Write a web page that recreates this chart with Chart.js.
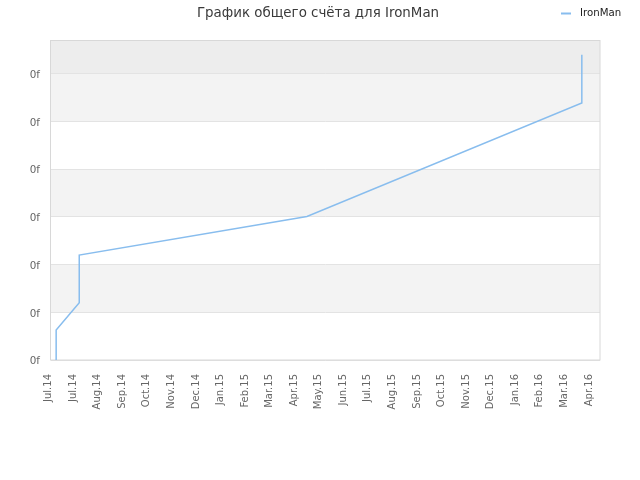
<!DOCTYPE html>
<html>
<head>
<meta charset="utf-8">
<script src="https://cdn.jsdelivr.net/npm/chart.js@4/dist/chart.umd.min.js"></script>
<style>
  html, body { margin: 0; padding: 0; background: #ffffff; }
  #wrap { width: 640px; height: 480px; position: relative; }
</style>
</head>
<body>
<div id="wrap"><canvas id="c"></canvas></div>
<script>
// ---- data ----
const chartTitle = 'График общего счёта для IronMan';
const seriesName = 'IronMan';
const categories = ['Jul.14','Jul.14','Aug.14','Sep.14','Oct.14','Nov.14','Dec.14',
  'Jan.15','Feb.15','Mar.15','Apr.15','May.15','Jun.15','Jul.15','Aug.15','Sep.15',
  'Oct.15','Nov.15','Dec.15','Jan.16','Feb.16','Mar.16','Apr.16'];
const yTickLabels = ['0f','0f','0f','0f','0f','0f','0f'];
const seriesX = [0.31, 0.31, 1.25, 1.25, 10.52, 21.71, 21.71];
const seriesY = [0, 0.63, 1.20, 2.20, 3.01, 5.39, 6.40];

const FONT = "'DejaVu Sans', 'Liberation Sans', sans-serif";
const LINE_COLOR = '#88bdee';

const points = seriesX.map((x, i) => ({ x: x, y: seriesY[i] }));

const decorPlugin = {
  id: 'decor',
  beforeDraw(chart) {
    const { ctx, chartArea: a, scales } = chart;
    const y = scales.y;
    ctx.save();
    ctx.fillStyle = '#ffffff';
    ctx.fillRect(0, 0, chart.width, chart.height);
    const n = yTickLabels.length;
    for (let i = 0; i < n; i++) {
      let color = null;
      if (i === n - 1) color = '#ededed';
      else if (i % 2 === 1) color = '#f3f3f3';
      if (!color) continue;
      const top = y.getPixelForValue(Math.min(i + 1, y.max));
      const bottom = y.getPixelForValue(i);
      ctx.fillStyle = color;
      ctx.fillRect(a.left, top, a.right - a.left, bottom - top);
    }
    ctx.restore();
  },
  beforeDatasetsDraw(chart) {
    const { ctx, chartArea: a } = chart;
    ctx.save();
    ctx.strokeStyle = '#d8d8d8';
    ctx.lineWidth = 1;
    ctx.strokeRect(Math.round(a.left) - 0.5, Math.round(a.top) + 0.5,
      Math.round(a.right - a.left) + 0.5, Math.round(a.bottom - a.top) - 0.5);
    ctx.restore();
  },
  afterDraw(chart) {
    const { ctx } = chart;
    ctx.save();
    // title
    ctx.fillStyle = '#3a3a3a';
    ctx.font = '13.4px ' + FONT;
    ctx.textAlign = 'center';
    ctx.textBaseline = 'middle';
    ctx.fillText(chartTitle, 318, 13.5);
    // legend
    ctx.strokeStyle = LINE_COLOR;
    ctx.lineWidth = 2;
    ctx.beginPath();
    ctx.moveTo(561, 13.5);
    ctx.lineTo(571, 13.5);
    ctx.stroke();
    ctx.fillStyle = '#222222';
    ctx.font = '10.2px ' + FONT;
    ctx.textAlign = 'left';
    ctx.fillText(seriesName, 580, 13.5);
    ctx.restore();
  }
};

new Chart(document.getElementById('c'), {
  type: 'line',
  data: {
    datasets: [{
      label: seriesName,
      data: points,
      borderColor: LINE_COLOR,
      backgroundColor: LINE_COLOR,
      borderWidth: 1.5,
      pointRadius: 0,
      tension: 0,
      fill: false
    }]
  },
  options: {
    responsive: true,
    maintainAspectRatio: false,
    animation: false,
    devicePixelRatio: 1,
    layout: { padding: { left: 0, right: 40, top: 40, bottom: 0 } },
    plugins: {
      legend: { display: false },
      tooltip: { enabled: false },
      title: { display: false }
    },
    scales: {
      x: {
        type: 'linear',
        min: 0.1,
        max: 22.45,
        afterBuildTicks: s => { s.ticks = categories.map((_, i) => ({ value: i })); },
        afterFit: s => { s.height = 120; },
        grid: { display: false, drawTicks: false },
        border: { display: false },
        ticks: {
          autoSkip: false,
          minRotation: 90,
          maxRotation: 90,
          padding: 14,
          color: '#666666',
          font: { family: FONT, size: 10 },
          callback: (v, i) => categories[i]
        }
      },
      y: {
        type: 'linear',
        min: 0,
        max: 6.71,
        afterBuildTicks: s => { s.ticks = yTickLabels.map((_, i) => ({ value: i })); },
        afterFit: s => { s.width = 51; },
        grid: { color: '#e3e3e3', drawTicks: false, lineWidth: 1 },
        border: { display: false },
        ticks: {
          padding: 11,
          labelOffset: 1.5,
          color: '#666666',
          font: { family: FONT, size: 10.4 },
          callback: (v, i) => yTickLabels[i]
        }
      }
    }
  },
  plugins: [decorPlugin]
});
</script>
</body>
</html>
